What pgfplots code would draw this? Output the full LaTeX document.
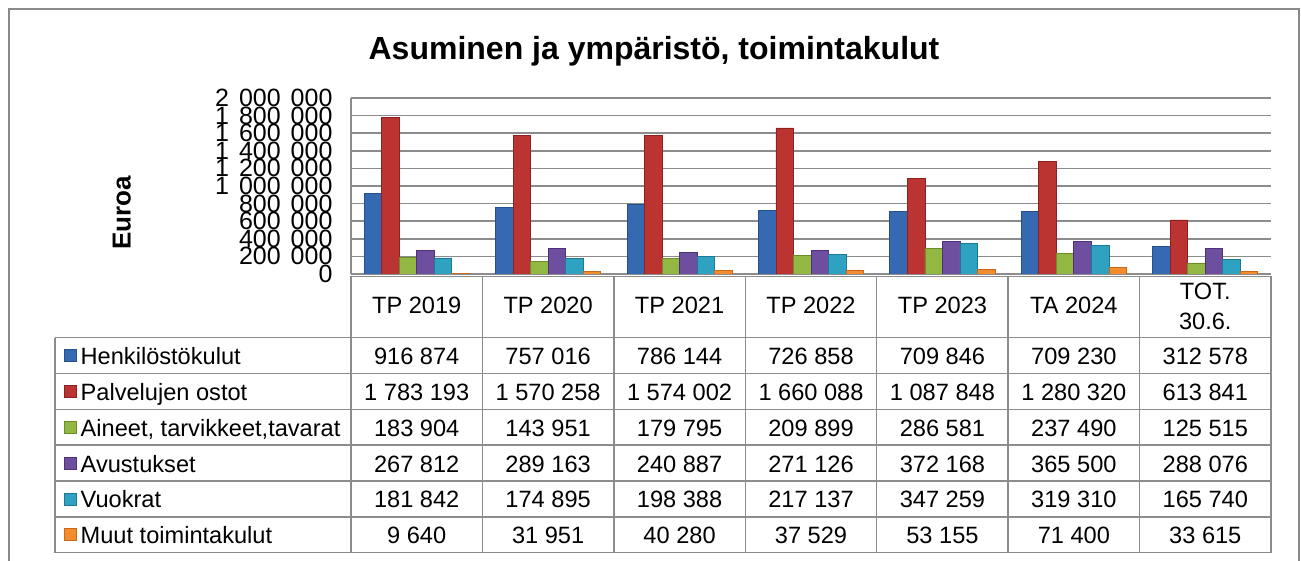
\documentclass[border=0pt]{standalone}
\usepackage{fontspec}
\setmainfont{Liberation Sans}
\usepackage{pgfplots}
\pgfplotsset{compat=1.18}
\definecolor{gridc}{HTML}{8C8C8C}
\definecolor{framec}{HTML}{898989}
\definecolor{blueM}{HTML}{3569B2}\definecolor{blueE}{HTML}{24508E}
\definecolor{redM}{HTML}{BC3431}\definecolor{redE}{HTML}{8C2220}
\definecolor{greenM}{HTML}{92B843}\definecolor{greenE}{HTML}{6C8C2A}
\definecolor{purpM}{HTML}{6E4E9E}\definecolor{purpE}{HTML}{4C3276}
\definecolor{tealM}{HTML}{2EA2C0}\definecolor{tealE}{HTML}{1C7A94}
\definecolor{oranM}{HTML}{F28C2E}\definecolor{oranE}{HTML}{C86818}
\newcommand\tsp{\hspace{0.4em}}
\newcommand\tabfont{\fontsize{23.6bp}{28bp}\selectfont}
\begin{document}
\begin{tikzpicture}[x=1bp,y=1bp]
\useasboundingbox (0,0) rectangle (1301,561);
% outer frame
\draw[framec,line width=1.8bp] (9,0) -- (9,552) -- (1299,552) -- (1299,0);
% title
\node[anchor=base,inner sep=0pt,font=\fontsize{32bp}{36bp}\selectfont\bfseries] at (654,501) {Asuminen ja ympäristö, toimintakulut};
% y label
\node[rotate=90,inner sep=0pt,font=\fontsize{26bp}{30bp}\selectfont\bfseries] at (121.7,348) {Euroa};
\begin{axis}[at={(351bp,287bp)},anchor=south west,scale only axis,
  width=920bp,height=176bp,
  xmin=-0.5,xmax=6.5,ymin=0,ymax=2000000,
  xtick=\empty,
  scaled y ticks=false,
  ytick={0,200000,400000,600000,800000,1000000,1200000,1400000,1600000,1800000,2000000},
  yticklabels={0,{200\tsp000},{400\tsp000},{600\tsp000},{800\tsp000},{1\tsp000\tsp000},{1\tsp200\tsp000},{1\tsp400\tsp000},{1\tsp600\tsp000},{1\tsp800\tsp000},{2\tsp000\tsp000}},
  yticklabel style={font=\fontsize{25bp}{25bp}\selectfont,xshift=-15bp},
  major tick length=0pt,
  axis x line*=bottom, axis y line*=left,
  axis line style={draw=gridc,line width=1.5bp},
  ymajorgrids, major grid style={draw=gridc,line width=1.5bp},
  bar width=0.1333,
]
\addplot[ybar,bar shift=-0.3333,draw=blueE,line width=0.8bp,fill=blueM]
 coordinates {(0,916874) (1,757016) (2,786144) (3,726858) (4,709846) (5,709230) (6,312578)};
\addplot[ybar,bar shift=-0.2,draw=redE,line width=0.8bp,fill=redM]
 coordinates {(0,1783193) (1,1570258) (2,1574002) (3,1660088) (4,1087848) (5,1280320) (6,613841)};
\addplot[ybar,bar shift=-0.0667,draw=greenE,line width=0.8bp,fill=greenM]
 coordinates {(0,183904) (1,143951) (2,179795) (3,209899) (4,286581) (5,237490) (6,125515)};
\addplot[ybar,bar shift=0.0667,draw=purpE,line width=0.8bp,fill=purpM]
 coordinates {(0,267812) (1,289163) (2,240887) (3,271126) (4,372168) (5,365500) (6,288076)};
\addplot[ybar,bar shift=0.2,draw=tealE,line width=0.8bp,fill=tealM]
 coordinates {(0,181842) (1,174895) (2,198388) (3,217137) (4,347259) (5,319310) (6,165740)};
\addplot[ybar,bar shift=0.3333,draw=oranE,line width=0.8bp,fill=oranM]
 coordinates {(0,9640) (1,31951) (2,40280) (3,37529) (4,53155) (5,71400) (6,33615)};
\end{axis}
% data table
\begin{scope}[gridc,line width=1.5bp]
\draw (351,284.5) -- (1271,284.5);
\foreach \r in {0,...,6} \draw (55,{223.3-35.83*\r}) -- (1271,{223.3-35.83*\r});
\draw (55,223.3) -- (55,8.3);
\foreach \k in {0,...,7} \draw ({351+131.43*\k},284.5) -- ({351+131.43*\k},8.3);
\end{scope}
% header
\foreach \t [count=\k from 0] in {TP 2019,TP 2020,TP 2021,TP 2022,TP 2023,TA 2024}
  \node[anchor=base,inner sep=0pt,font=\tabfont] at ({351+131.43*(\k+0.5)},247) {\t};
\node[anchor=base,inner sep=0pt,font=\tabfont] at ({351+131.43*6.5},261) {TOT.};
\node[anchor=base,inner sep=0pt,font=\tabfont] at ({351+131.43*6.5},231) {30.6.};
% legend column
\foreach \lab/\cM/\cE [count=\r from 0] in {Henkilöstökulut/blueM/blueE,Palvelujen ostot/redM/redE,{Aineet, tarvikkeet,tavarat}/greenM/greenE,Avustukset/purpM/purpE,Vuokrat/tealM/tealE,Muut toimintakulut/oranM/oranE}{
  \pgfmathsetmacro\yc{223.3-35.83*(\r+0.5)}
  \draw[draw=\cE,line width=0.6bp,fill=\cM] (64,\yc-6) rectangle (76,\yc+6);
  \node[anchor=base west,inner sep=0pt,font=\tabfont] at (80.5,\yc-9) {\lab};
}
% values
\foreach \row [count=\r from 0] in {
  {916 874,757 016,786 144,726 858,709 846,709 230,312 578},
  {1 783 193,1 570 258,1 574 002,1 660 088,1 087 848,1 280 320,613 841},
  {183 904,143 951,179 795,209 899,286 581,237 490,125 515},
  {267 812,289 163,240 887,271 126,372 168,365 500,288 076},
  {181 842,174 895,198 388,217 137,347 259,319 310,165 740},
  {9 640,31 951,40 280,37 529,53 155,71 400,33 615}}{
  \pgfmathsetmacro\yc{223.3-35.83*(\r+0.5)}
  \foreach \v [count=\k from 0] in \row
    \node[anchor=base,inner sep=0pt,font=\tabfont] at ({351+131.43*(\k+0.5)},\yc-9) {\v};
}
\end{tikzpicture}
\end{document}
